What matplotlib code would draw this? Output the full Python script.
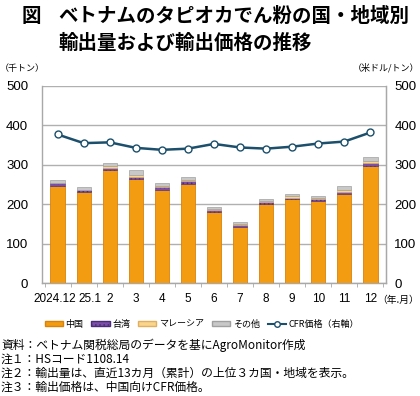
import matplotlib
matplotlib.use("Agg")
import matplotlib.pyplot as plt
import numpy as np
from matplotlib.lines import Line2D
from matplotlib.patches import Patch
from matplotlib.transforms import ScaledTranslation

plt.rcParams['font.family'] = ['Noto Sans CJK JP', 'DejaVu Sans']
plt.rcParams['hatch.linewidth'] = 0.6

months = ["2024.12", "25.1", "2", "3", "4", "5", "6", "7", "8", "9", "10", "11", "12"]
china = [247, 230, 288, 264, 236, 252, 180, 143, 200, 212, 208, 225, 297]
taiwan = [6, 5, 5, 6, 7, 6, 5, 4, 5, 5, 5, 5, 8]
malaysia = [2, 2, 4, 5, 3, 3, 2, 2, 2, 3, 3, 7, 4]
other = [7, 7, 8, 12, 8, 9, 6, 6, 7, 7, 6, 10, 11]
cfr = [377, 355, 357, 343, 338, 341, 353, 344, 341, 346, 354, 359, 382]

fig = plt.figure(figsize=(4.2, 3.96), dpi=100)
ax = fig.add_axes([42/420, 1-283/396, (386-42)/420, (283-86)/396])
x = np.arange(len(months))
w = 0.55

c_china = "#F39C12"
c_tw = "#7B4FA8"
c_my = "#FAD58C"
c_ot = "#C8C8C8"

b0 = np.zeros(len(months))
ax.bar(x, china, w, bottom=b0, color=c_china, edgecolor="#D9820A", linewidth=0.6, zorder=3)
b1 = b0 + np.array(china)
ax.bar(x, taiwan, w, bottom=b1, color=c_tw, edgecolor="#4B2A78", hatch="....", linewidth=0.4, zorder=3)
b2 = b1 + np.array(taiwan)
ax.bar(x, malaysia, w, bottom=b2, color=c_my, edgecolor="#E0B060", linewidth=0.4, zorder=3)
b3 = b2 + np.array(malaysia)
ax.bar(x, other, w, bottom=b3, color=c_ot, edgecolor="#A0A0A0", linewidth=0.5, zorder=3)

num_font = ['Liberation Sans', 'DejaVu Sans']

ax.set_ylim(0, 500)
ax.set_xlim(-0.6, len(months) - 0.4)
ax.set_yticks(range(0, 501, 100))
ax.yaxis.grid(True, color="#B0B0B0", linewidth=1.0, zorder=0)
ax.set_axisbelow(True)
ax.spines["top"].set_visible(False)
for s in ["left", "right", "bottom"]:
    ax.spines[s].set_color("#A8A8A8")
    ax.spines[s].set_linewidth(1.0)
ax.tick_params(axis='y', length=0, labelsize=9.5, pad=10)
ax.set_xticks(x)
ax.set_xticklabels(months, fontsize=8.5, family=num_font)
ax.tick_params(axis='x', length=0, pad=7)
ax.set_xticks(np.arange(-0.5, len(months), 1), minor=True)
ax.tick_params(axis='x', which='minor', length=3, color="#A8A8A8", direction='out')

# nudge the first two crowded labels apart (as in the reference)
xl = ax.get_xticklabels()
xl[0].set_transform(xl[0].get_transform() + ScaledTranslation(-2/72, 0, fig.dpi_scale_trans))
xl[1].set_transform(xl[1].get_transform() + ScaledTranslation(4.5/72, 0, fig.dpi_scale_trans))

ax2 = ax.twinx()
ax2.set_ylim(0, 500)
ax2.set_yticks(range(0, 501, 100))
ax2.tick_params(axis='y', length=0, labelsize=9.5, pad=6)
for s in ["top", "left", "bottom"]:
    ax2.spines[s].set_visible(False)
ax2.spines["right"].set_color("#A8A8A8")
line_c = "#1B4F6B"
ax2.plot(x, cfr, color=line_c, linewidth=1.8, marker='o', markersize=5,
         markerfacecolor='white', markeredgecolor=line_c, markeredgewidth=1.0, zorder=5)
for lab in ax.get_yticklabels() + ax2.get_yticklabels():
    lab.set_family(num_font)

fig.text(22/420, 1-16/396, "図", fontsize=14, fontweight='bold', va='center', ha='left')
fig.text(58/420, 1-16/396, "ベトナムのタピオカでん粉の国・地域別", fontsize=14, fontweight='bold', va='center', ha='left')
fig.text(58/420, 1-43/396, "輸出量および輸出価格の推移", fontsize=14, fontweight='bold', va='center', ha='left')
fig.text(0/420, 1-68/396, "（千トン）", fontsize=6.5, va='center', ha='left')
fig.text(419/420, 1-68/396, "（米ドル/トン）", fontsize=6.5, va='center', ha='right')
fig.text(419/420, 1-300/396, "（年.月）", fontsize=7, va='center', ha='right')

handles = [
    Patch(facecolor=c_china, edgecolor="#D9820A", label="中国"),
    Patch(facecolor=c_tw, edgecolor="#4B2A78", hatch="....", label="台湾"),
    Patch(facecolor=c_my, edgecolor="#E0B060", label="マレーシア"),
    Patch(facecolor=c_ot, edgecolor="#A0A0A0", label="その他"),
    Line2D([0], [0], color=line_c, linewidth=1.5, marker='o', markersize=4,
           markerfacecolor='white', markeredgecolor=line_c, label="CFR価格（右軸）"),
]
fig.legend(handles=handles, loc='center', bbox_to_anchor=(202/420, 1-324/396), ncol=5,
           frameon=False, fontsize=6.5, handlelength=2.0, handleheight=0.5,
           columnspacing=0.9, handletextpad=0.3)

notes = [
    "資料：ベトナム関税総局のデータを基にAgroMonitor作成",
    "注１：HSコード1108.14",
    "注２：輸出量は、直近13カ月（累計）の上位３カ国・地域を表示。",
    "注３：輸出価格は、中国向けCFR価格。",
]
for i, n in enumerate(notes):
    fig.text(1/420, 1-(345 + 14*i)/396, n, fontsize=8.5, va='center', ha='left')

fig.savefig("out.png", dpi=100)
